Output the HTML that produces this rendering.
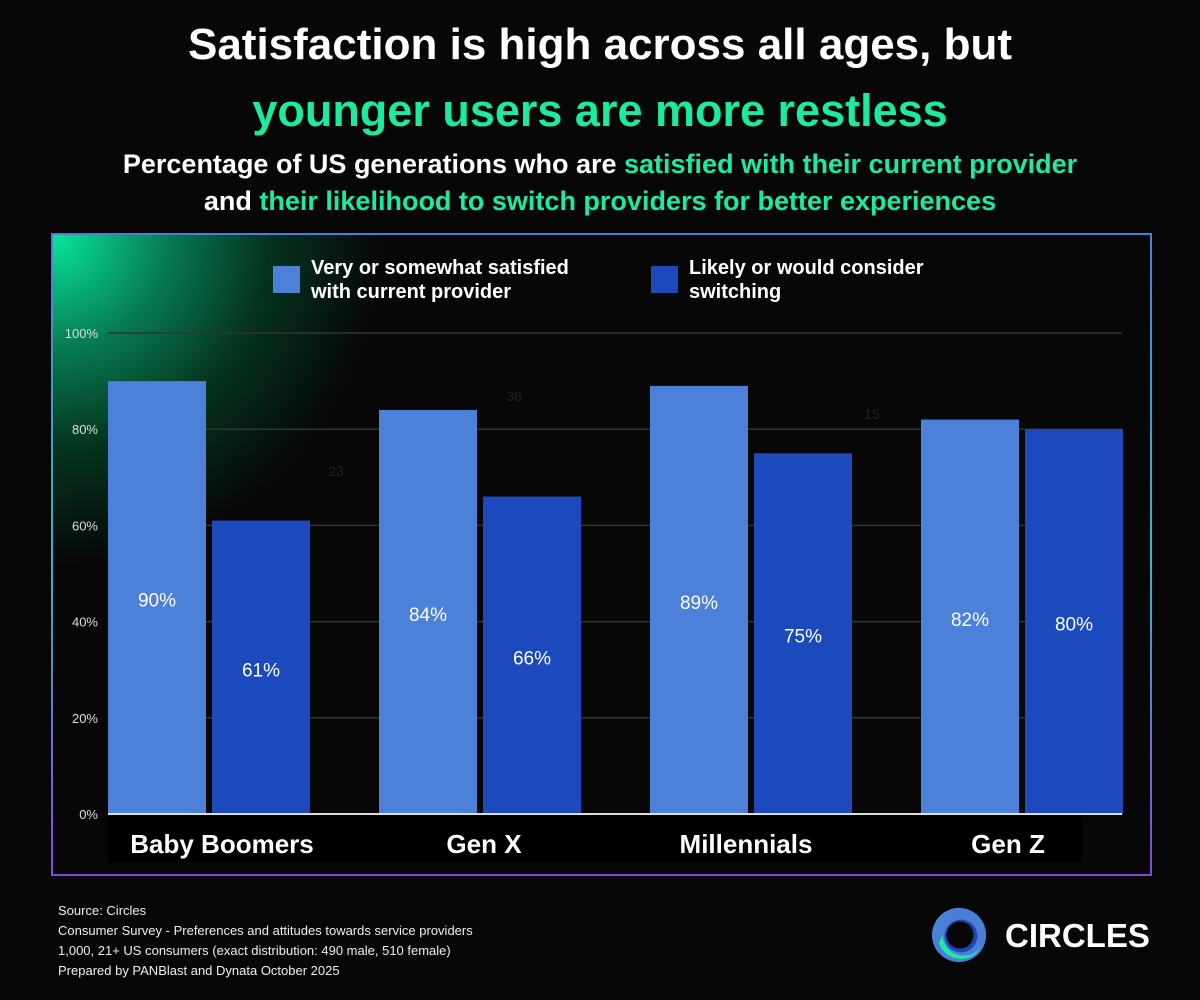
<!DOCTYPE html>
<html><head><meta charset="utf-8">
<style>
body{margin:0;width:1200px;height:1000px;background:#070707;font-family:"Liberation Sans",sans-serif;overflow:hidden;position:relative;color:#fff}
.t{position:absolute;left:0;width:1200px;text-align:center;font-weight:bold}
.g{color:#1de9a0}
#frame{position:absolute;left:51px;top:233px;width:1097px;height:639px;border:2px solid;border-image:linear-gradient(180deg,#4a7fd8,#3fb0c8 50%,#8a45e0) 1;background:radial-gradient(ellipse 330px 330px at 0 0,#07e69a 0%,#077a52 35%,#05331f 65%,#070707 100%);}
.src{position:absolute;left:58px;font-size:13px;color:#eee}
</style></head><body>
<div class="t" style="top:20px;font-size:44px">Satisfaction is high across all ages, but</div>
<div class="t g" style="top:85px;font-size:45px">younger users are more restless</div>
<div class="t" style="top:149px;font-size:27px">Percentage of US generations who are <span class="g">satisfied with their current provider</span></div>
<div class="t" style="top:186px;font-size:27px">and <span class="g">their likelihood to switch providers for better experiences</span></div>
<div id="frame"></div>
<svg id="chart" width="1200" height="1000" style="position:absolute;left:0;top:0"></svg>
<div class="src" style="top:901px;line-height:20px">Source: Circles<br>Consumer Survey - Preferences and attitudes towards service providers<br>1,000, 21+ US consumers (exact distribution: 490 male, 510 female)<br>Prepared by PANBlast and Dynata October 2025</div>
<svg style="position:absolute;left:931px;top:906px" width="58" height="58" viewBox="0 0 60 60">
<circle cx="29" cy="30" r="28" fill="#4a7fd8"/><path d="M8 38 A24 24 0 0 0 52 42 A22 22 0 0 1 12 30 Z" fill="#1de9a0"/><circle cx="31" cy="31" r="17" fill="#1d46b8"/><circle cx="30" cy="30" r="14" fill="#070707"/></svg>
<div style="position:absolute;left:1005px;top:917px;font-size:33px;font-weight:bold">CIRCLES</div>
<script>
const categories=["Baby Boomers","Gen X","Millennials","Gen Z"];
const satisfied=[90,84,89,82];
const switching=[61,66,75,80];
const ticks=[0,20,40,60,80,100];
const strayLabels=["23","36","15"];
const svg=document.getElementById('chart');
const NS='http://www.w3.org/2000/svg';
const y=v=>814-v*4.81;
const gx=i=>108+i*271;
function mk(t,a,txt){const e=document.createElementNS(NS,t);for(const k in a)e.setAttribute(k,a[k]);if(txt!=null)e.textContent=txt;svg.appendChild(e);return e;}
ticks.forEach(t=>{
 if(t>0){const l=mk('line',{x1:108,x2:1122,y1:y(t),y2:y(t),stroke:'#333','stroke-width':1.5});
 
 }
 const tx=mk('text',{x:98,y:y(t)+5,'text-anchor':'end','font-size':13,fill:'#ddd','font-family':'Liberation Sans'},t+'%');
 
 
});
mk('rect',{x:108,y:815,width:974,height:47,fill:'#000'});
categories.forEach((c,i)=>{
 const x=gx(i);
 [[satisfied[i],'#4d81d9',x,'satisfied'],[switching[i],'#1c4abc',x+104,'switching']].forEach(([v,col,bx,s])=>{
  const r=mk('rect',{x:bx,y:y(v),width:98,height:v*4.81,fill:col});
  
  
  const t=mk('text',{x:bx+49,y:(y(v)+814)/2+9,'text-anchor':'middle','font-size':19,fill:'#fff','font-family':'Liberation Sans'},v+'%');
  
  
 });
 const cl=mk('text',{x:x+114-i*9,y:853,'text-anchor':'middle','font-size':26,'font-weight':'bold',fill:'#fff','font-family':'Liberation Sans'},c);
 
 
 if(i<3){const s=mk('text',{x:[336,514,872][i],y:[476,401,419][i],'text-anchor':'middle','font-size':14,fill:'#222','font-family':'Liberation Sans'},strayLabels[i]);
 
 }
});
mk('line',{x1:108,x2:1122,y1:814,y2:814,stroke:'#ddd','stroke-width':2});
const leg=[['#4d81d9',273,'Very or somewhat satisfied','with current provider'],['#1c4abc',651,'Likely or would consider','switching']];
leg.forEach((l,i)=>{
 const r=mk('rect',{x:l[1],y:266,width:27,height:27,fill:l[0]});
 
 
 const t=mk('text',{x:l[1]+38,y:274,'font-size':20,'font-weight':'bold',fill:'#fff','font-family':'Liberation Sans'});
 
 
 [l[2],l[3]].forEach((s,j)=>{const ts=document.createElementNS(NS,'tspan');ts.setAttribute('x',l[1]+38);ts.setAttribute('dy',j?24:0);ts.textContent=s;t.appendChild(ts);});
});
</script>
</body></html>
